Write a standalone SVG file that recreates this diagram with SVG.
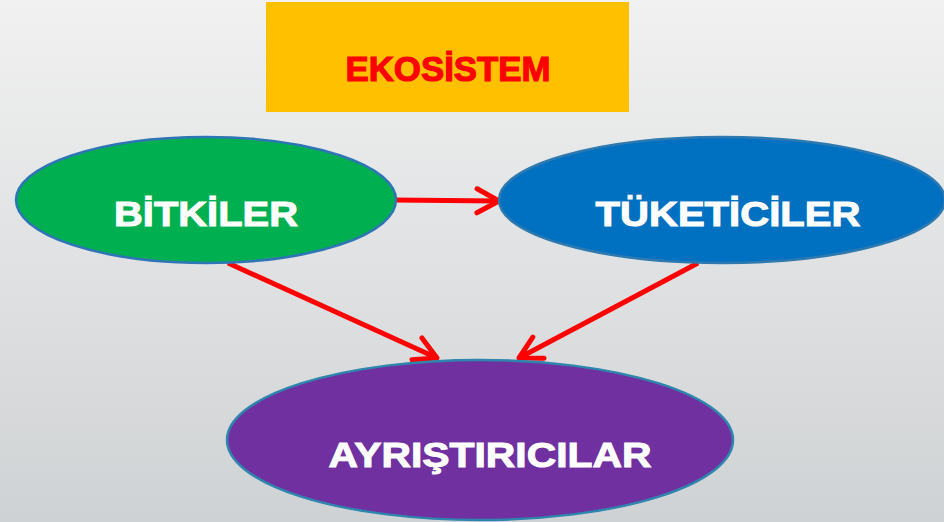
<svg xmlns="http://www.w3.org/2000/svg" width="944" height="522" viewBox="0 0 944 522">
<defs>
<linearGradient id="bg" x1="0" y1="0" x2="0" y2="1">
<stop offset="0" stop-color="#f1f1f1"/>
<stop offset="1" stop-color="#cfd2d4"/>
</linearGradient>
<marker id="ah" markerUnits="userSpaceOnUse" viewBox="-26 -16 30 32" refX="0" refY="0" markerWidth="30" markerHeight="32" orient="auto">
<path d="M-22,-12 L0,0 L-22,12" fill="none" stroke="#ff0000" stroke-width="5" stroke-linecap="round" stroke-linejoin="round"/>
</marker>
<style>
.lbl{font-family:"Liberation Sans",Arial,sans-serif;font-weight:bold;fill:#ffffff;stroke:#ffffff;stroke-width:1;font-size:35px;text-anchor:middle}
.conn{stroke:#ff0000;stroke-width:5;fill:none;marker-end:url(#ah)}
.node{stroke-width:2.5}
</style>
</defs>
<rect x="0" y="0" width="944" height="522" fill="url(#bg)"/>
<g id="title">
<rect x="266" y="2" width="363" height="110" fill="#ffc000"/>
<text x="448" y="81" font-family="Liberation Sans, Arial, sans-serif" font-weight="bold" font-size="35" fill="#ff0000" stroke="#ff0000" stroke-width="1.2" text-anchor="middle" textLength="205" lengthAdjust="spacingAndGlyphs">EKOSİSTEM</text>
</g>
<g id="connectors">
<line class="conn" x1="393" y1="200" x2="499" y2="201"/>
<line class="conn" x1="228" y1="263" x2="437" y2="358"/>
<line class="conn" x1="698" y1="263" x2="519" y2="358"/>
</g>
<g id="bitkiler">
<ellipse class="node" cx="206" cy="200" rx="190" ry="63" fill="#00b050" stroke="#2e75b6"/>
<text class="lbl" x="206" y="226" textLength="184" lengthAdjust="spacingAndGlyphs">BİTKİLER</text>
</g>
<g id="tuketiciler">
<ellipse class="node" cx="722" cy="200" rx="223" ry="63" fill="#0070c0" stroke="#2e7ab0"/>
<text class="lbl" x="728" y="226" textLength="265" lengthAdjust="spacingAndGlyphs">TÜKETİCİLER</text>
</g>
<g id="ayristiricilar">
<ellipse class="node" cx="480" cy="440" rx="253" ry="80" fill="#7030a0" stroke="#2e86ae"/>
<text class="lbl" x="490" y="467" textLength="323" lengthAdjust="spacingAndGlyphs">AYRIŞTIRICILAR</text>
</g>
</svg>
